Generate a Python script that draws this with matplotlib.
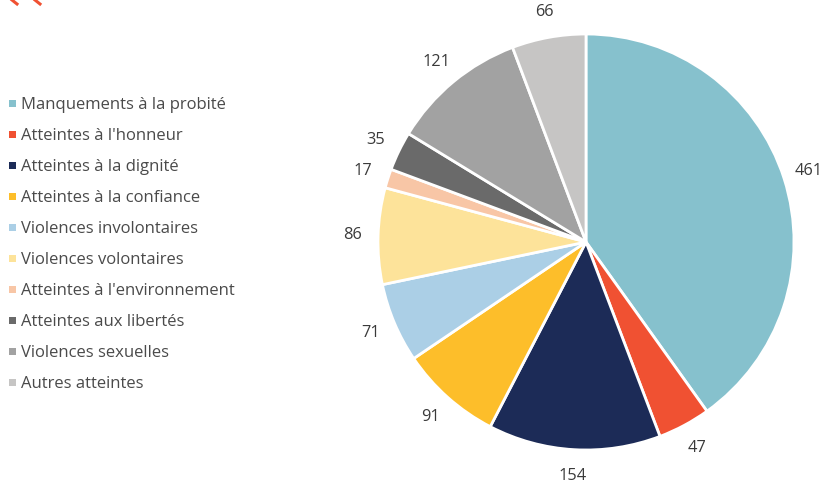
import matplotlib
matplotlib.use("Agg")
import matplotlib.pyplot as plt
from matplotlib.patches import Rectangle
from matplotlib.lines import Line2D
import numpy as np

plt.rcParams['font.family'] = ['Open Sans', 'DejaVu Sans']

# Répartition des atteintes par catégorie
categories = [
    "Manquements à la probité",
    "Atteintes à l'honneur",
    "Atteintes à la dignité",
    "Atteintes à la confiance",
    "Violences involontaires",
    "Violences volontaires",
    "Atteintes à l'environnement",
    "Atteintes aux libertés",
    "Violences sexuelles",
    "Autres atteintes",
]
valeurs = [461, 47, 154, 91, 71, 86, 17, 35, 121, 66]
couleurs = [
    "#86C1CD", "#F05132", "#1C2B57", "#FDBE2A", "#ABCFE6",
    "#FDE39A", "#F8C6A6", "#6A6A6A", "#A2A2A2", "#C6C5C4",
]

W, H = 830, 483
fig = plt.figure(figsize=(W / 100, H / 100), dpi=100)

# camembert centré à (586, 242) px, rayon 208 px
cx, cy, r = 586, 242, 208
ax = fig.add_axes([(cx - r) / W, (H - cy - r) / H, 2 * r / W, 2 * r / H])
ax.pie(
    valeurs,
    colors=couleurs,
    startangle=90,
    counterclock=False,
    labels=[str(v) for v in valeurs],
    labeldistance=1.125,
    textprops=dict(fontsize=11.8, color="#3A3A3A"),
    wedgeprops=dict(edgecolor="white", linewidth=2),
)
ax.set_xlim(-1, 1)
ax.set_ylim(-1, 1)
ax.set_aspect("equal")
ax.axis("off")
for t in ax.texts:
    t.set_clip_on(False)
    t.set_ha("center")
    t.set_va("center")

# légende
y0, pas = 104, 31
for i, (nom, c) in enumerate(zip(categories, couleurs)):
    y = y0 + i * pas
    fig.patches.append(Rectangle((9 / W, (H - y - 3) / H), 7 / W, 7 / H,
                                 transform=fig.transFigure, facecolor=c,
                                 edgecolor="none"))
    fig.text(21 / W, (H - y - 1) / H, nom, fontsize=12, color="#4A4A4A",
             va="center", ha="left")

# petits traits orange en haut à gauche
for x in (12, 35):
    fig.lines.append(Line2D([x / W, (x + 5) / W], [1, (H - 4) / H],
                            transform=fig.transFigure, color="#F05132",
                            linewidth=2.2))

fig.savefig("out.png", dpi=100, facecolor="white")
